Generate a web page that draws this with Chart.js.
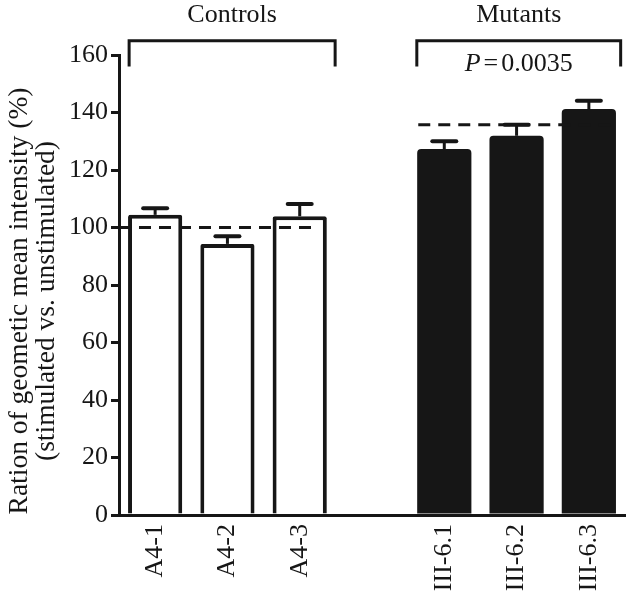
<!DOCTYPE html>
<html>
<head>
<meta charset="utf-8">
<script src="https://cdn.jsdelivr.net/npm/chart.js@4.4.1/dist/chart.umd.min.js"></script>
<style>
  html, body { margin: 0; padding: 0; background: #fff; }
  #wrap { width: 630px; height: 592px; }
</style>
</head>
<body>
<div id="wrap"><canvas id="chart" width="630" height="592"></canvas></div>
<script>
const labels = ["A4-1", "A4-2", "A4-3", "", "III-6.1", "III-6.2", "III-6.3"]
const ratios = [104.4, 94.3, 103.9, null, 127.3, 131.9, 141.2]
const errors = [2.3, 2.7, 4.3, null, 2.7, 3.8, 2.9]
const yTicks = [0, 20, 40, 60, 80, 100, 120, 140, 160]
const controlMean = 100
const mutantMean = 135.7
const groups = ["Controls", "Mutants"]
const pValue = "0.0035"
const yTitle = ["Ration of geometic mean intensity (%)", "(stimulated vs. unstimulated)"]

const ink = "#161616"
const serif = "'Liberation Serif', 'Times New Roman', serif"

// brackets, group names, p value, y title and upper error bars
const annotations = {
  id: "annotations",
  afterDatasetsDraw(chart) {
    const { ctx, scales: { x, y } } = chart
    const bars = chart.getDatasetMeta(2).data
    ctx.save()
    ctx.strokeStyle = ink
    ctx.fillStyle = ink

    ratios.forEach((v, i) => {
      if (v == null) return
      const bx = bars[i].x
      const top = y.getPixelForValue(v)
      const end = y.getPixelForValue(v + errors[i])
      ctx.lineCap = "butt"
      ctx.lineWidth = 3
      ctx.beginPath(); ctx.moveTo(bx, top); ctx.lineTo(bx, end); ctx.stroke()
      ctx.lineCap = "round"
      ctx.lineWidth = 4
      ctx.beginPath(); ctx.moveTo(bx - 12, end); ctx.lineTo(bx + 12, end); ctx.stroke()
    })

    const spans = [[-0.36, 2.49], [3.62, 6.44]]
    const barTop = y.getPixelForValue(165)
    const legEnd = y.getPixelForValue(156)
    ctx.lineCap = "butt"
    ctx.lineJoin = "miter"
    ctx.lineWidth = 3
    ctx.textAlign = "center"
    ctx.textBaseline = "alphabetic"
    ctx.font = `26px ${serif}`
    spans.forEach(([a, b], k) => {
      const x0 = x.getPixelForValue(a)
      const x1 = x.getPixelForValue(b)
      ctx.beginPath()
      ctx.moveTo(x0, legEnd); ctx.lineTo(x0, barTop); ctx.lineTo(x1, barTop); ctx.lineTo(x1, legEnd)
      ctx.stroke()
      ctx.fillText(groups[k], (x0 + x1) / 2, 22)
    })

    // P = 0.0035, P in italics
    const cx = (x.getPixelForValue(3.62) + x.getPixelForValue(6.44)) / 2
    ctx.font = `italic 26px ${serif}`
    const wP = ctx.measureText("P").width
    ctx.font = `26px ${serif}`
    const wEq = ctx.measureText("=").width
    const wV = ctx.measureText(pValue).width
    const gap = 3
    const left = cx - (wP + wEq + wV + 2 * gap) / 2
    ctx.textAlign = "left"
    ctx.font = `italic 26px ${serif}`
    ctx.fillText("P", left, 71)
    ctx.font = `26px ${serif}`
    ctx.fillText("=", left + wP + gap, 71)
    ctx.fillText(pValue, left + wP + wEq + 2 * gap, 71)

    // y axis title, two rotated lines
    ctx.textAlign = "center"
    ctx.textBaseline = "middle"
    ctx.font = `27.5px ${serif}`
    ctx.translate(0, 301)
    ctx.rotate(-Math.PI / 2)
    ctx.fillText(yTitle[0], 0, 20)
    ctx.fillText(yTitle[1], 0, 47)
    ctx.restore()
  }
}

new Chart(document.getElementById("chart"), {
  type: "bar",
  data: {
    datasets: [
      {
        type: "line",
        data: [{ x: -0.5, y: controlMean }, { x: 2.25, y: controlMean }],
        borderColor: ink,
        borderWidth: 3,
        borderDash: [12, 8],
        pointRadius: 0,
        order: 0
      },
      {
        type: "line",
        data: [{ x: 3.64, y: mutantMean }, { x: 6.4, y: mutantMean }],
        borderColor: ink,
        borderWidth: 3,
        borderDash: [12, 8],
        pointRadius: 0,
        order: 0
      },
      {
        data: ratios.map((v, i) => ({ x: i, y: v })),
        grouped: false,
        backgroundColor: ratios.map((_, i) => i < 3 ? "#ffffff" : ink),
        borderColor: ink,
        borderWidth: ratios.map((_, i) => i < 3 ? 4 : 0),
        borderRadius: ratios.map((_, i) => i < 3 ? 2 : 4),
        borderSkipped: "start",
        barPercentage: 0.75,
        categoryPercentage: 1,
        order: 1
      }
    ]
  },
  options: {
    responsive: false,
    animation: false,
    layout: { padding: { top: 55, right: 5, left: 0, bottom: 0 } },
    plugins: { legend: { display: false }, tooltip: { enabled: false } },
    scales: {
      x: {
        type: "linear",
        offset: false,
        min: -0.5,
        max: 6.5,
        afterFit: (s) => { s.height = 77 },
        afterBuildTicks: (s) => { s.ticks = labels.map((_, i) => ({ value: i })) },
        grid: { display: true, offset: false, drawOnChartArea: false, drawTicks: false },
        border: { display: true, width: 3, color: ink },
        ticks: {
          minRotation: 90,
          maxRotation: 90,
          autoSkip: false,
          padding: 9,
          color: ink,
          font: { family: serif, size: 26 },
          callback: (v) => labels[v] ?? ""
        }
      },
      y: {
        min: 0,
        max: 160,
        afterFit: (s) => { s.width = 119 },
        afterBuildTicks: (s) => { s.ticks = yTicks.map(v => ({ value: v })) },
        grid: { display: true, drawOnChartArea: false, drawTicks: true, tickLength: 8, lineWidth: 3, color: ink },
        border: { display: true, width: 3, color: ink },
        ticks: { padding: 3, color: ink, font: { family: serif, size: 26 } }
      }
    }
  },
  plugins: [annotations]
})
</script>
</body>
</html>
